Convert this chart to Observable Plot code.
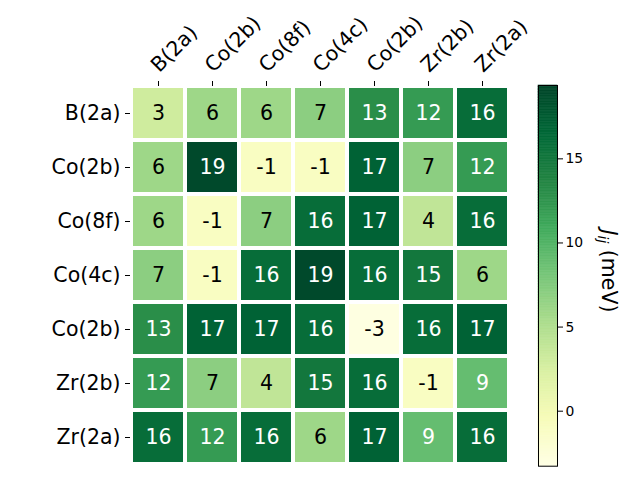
<!DOCTYPE html>
<html>
<head>
<meta charset="utf-8">
<script src="https://cdn.jsdelivr.net/npm/d3@7"></script>
<script src="https://cdn.jsdelivr.net/npm/@observablehq/plot@0.6"></script>
<style>
  body { margin: 0; background: white; }
  #wrap { position: relative; width: 640px; height: 480px; font-family: "DejaVu Sans", sans-serif; }
  #wrap svg { position: absolute; top: 0; }
  #cblabel { position: absolute; left: 607px; top: 271px; transform: translate(-50%, -50%) rotate(90deg);
    white-space: nowrap; font-size: 20.5px; color: black; line-height: 1; }
  #cblabel sub { font-size: 14px; font-style: italic; vertical-align: -4px; }
</style>
</head>
<body>
<div id="wrap"></div>
<script>
const rowLabels = ["B(2a)", "Co(2b)", "Co(8f)", "Co(4c)", "Co(2b)", "Zr(2b)", "Zr(2a)"];
const colLabels = ["B(2a)", "Co(2b)", "Co(8f)", "Co(4c)", "Co(2b)", "Zr(2b)", "Zr(2a)"];
const row0 = [3, 6, 6, 7, 13, 12, 16];
const row1 = [6, 19, -1, -1, 17, 7, 12];
const row2 = [6, -1, 7, 16, 17, 4, 16];
const row3 = [7, -1, 16, 19, 16, 15, 6];
const row4 = [13, 17, 17, 16, -3, 16, 17];
const row5 = [12, 7, 4, 15, 16, -1, 9];
const row6 = [16, 12, 16, 6, 17, 9, 16];
const cbarTicks = [0, 5, 10, 15];
const vmin = -3.27, vmax = 19.36;
const ylgn = ["#ffffe5", "#f7fcb9", "#d9f0a3", "#addd8e", "#78c679", "#41ab5d", "#238443", "#006837", "#004529"];

const rows = [row0, row1, row2, row3, row4, row5, row6];
const cells = rows.flatMap((r, i) => r.map((v, j) => ({i, j, v})));
const thr = (vmin + vmax) / 2;
const stops = ylgn.map((_, k) => vmin + (vmax - vmin) * k / (ylgn.length - 1));
const colorScale = {type: "linear", domain: stops, range: ylgn, interpolate: "rgb"};
const idx = d3.range(rowLabels.length);

const fs = 20.5;
const heat = Plot.plot({
  width: 640, height: 480,
  marginLeft: 130, marginRight: 130, marginTop: 85, marginBottom: 15,
  style: {fontFamily: "DejaVu Sans", color: "black", background: "white"},
  x: {type: "band", domain: idx, padding: 0, axis: null},
  y: {type: "band", domain: idx, padding: 0, axis: null},
  color: colorScale,
  marks: [
    Plot.cell(cells, {x: "j", y: "i", fill: "v", inset: 2}),
    Plot.text(cells, {filter: d => d.v > thr, x: "j", y: "i", text: d => String(d.v), fill: "white", fontSize: fs}),
    Plot.text(cells, {filter: d => d.v <= thr, x: "j", y: "i", text: d => String(d.v), fill: "black", fontSize: fs}),
    Plot.axisY({anchor: "left", tickSize: 5, tickPadding: 5, fontSize: fs, tickFormat: i => rowLabels[i], label: null}),
    Plot.axisX({anchor: "top", tickSize: 5, tickFormat: () => "", label: null}),
    Plot.text(idx, {x: d => d, frameAnchor: "top", text: i => colLabels[i], rotate: -45, textAnchor: "start",
      dx: -9.5, dy: -22.5, fontSize: fs, fill: "black"})
  ]
});

const nSlices = 240;
const step = (vmax - vmin) / nSlices;
const slices = d3.range(nSlices).map(k => ({a: vmin + k * step, b: vmin + (k + 1) * step, m: vmin + (k + 0.5) * step}));

const cbar = Plot.plot({
  width: 130, height: 480,
  marginLeft: 28, marginRight: 83, marginTop: 85, marginBottom: 14.3,
  style: {fontFamily: "DejaVu Sans", color: "black", background: "transparent"},
  y: {domain: [vmin, vmax], axis: null},
  color: colorScale,
  marks: [
    Plot.rect(slices, {y1: "a", y2: "b", fill: "m", stroke: "m", strokeWidth: 0.6}),
    Plot.frame({stroke: "black", strokeWidth: 1}),
    Plot.axisY({anchor: "right", ticks: cbarTicks, tickSize: 5, tickPadding: 3, fontSize: 13.9, label: null})
  ]
});

const wrap = document.getElementById("wrap");
heat.style.left = "0px";
cbar.style.left = "510px";
wrap.appendChild(heat);
wrap.appendChild(cbar);
const lab = document.createElement("div");
lab.id = "cblabel";
lab.innerHTML = '<i>J</i><sub>ij</sub> (meV)';
wrap.appendChild(lab);
</script>
</body>
</html>
